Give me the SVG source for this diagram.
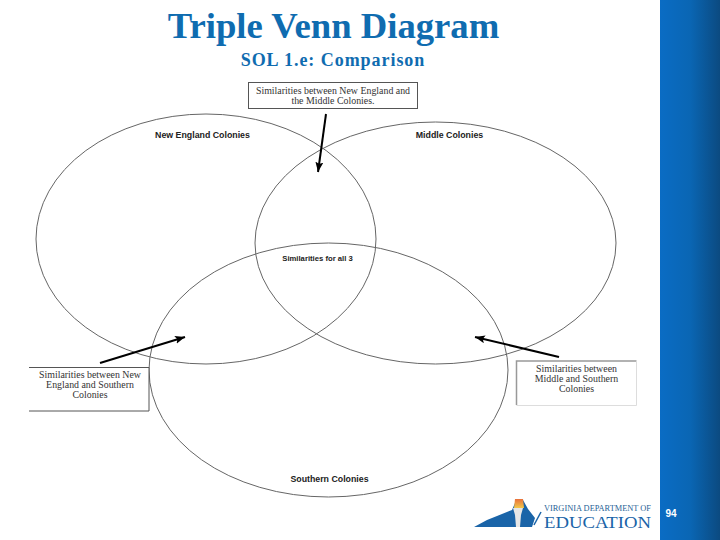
<svg xmlns="http://www.w3.org/2000/svg" width="720" height="540" viewBox="0 0 720 540">
<style>
.v{fill:none;stroke:#666;stroke-width:1}
.box{fill:#fff}
.t{font-family:"Liberation Serif",serif;font-weight:bold;fill:#0f6cb0;text-anchor:middle}
.l{font-family:"Liberation Serif",serif;font-size:9.900px;fill:#333;text-anchor:middle}
.h{font-family:"Liberation Sans",sans-serif;font-size:8.800px;font-weight:bold;fill:#222;text-anchor:middle}
.a{stroke:#000;stroke-width:2;fill:none;marker-end:url(#m)}
</style>
<defs>
<linearGradient id="g" x1="0" x2="1" y1="0" y2="0"><stop offset="0" stop-color="#0a6cc4"/><stop offset=".5" stop-color="#0a66b4"/><stop offset="1" stop-color="#0b4a80"/></linearGradient>
<linearGradient id="f" x1="0" x2="0" y1="0" y2="1"><stop offset="0" stop-color="#e8703a"/><stop offset="1" stop-color="#f2c84a"/></linearGradient>
<marker id="m" markerUnits="userSpaceOnUse" markerWidth="12" markerHeight="10" refX="10" refY="4" orient="auto"><path d="M0 0L10 4L0 8L2 4Z" fill="#000"/></marker>
</defs>
<rect id="sidebar" x="660" y="0" width="60" height="540" fill="url(#g)"/>
<text class="t" x="333.500" y="38" font-size="36.700">Triple Venn Diagram</text>
<text class="t" x="333" y="66" font-size="18" style="letter-spacing:.95px">SOL 1.e: Comparison</text>
<g id="venn-new-england"><ellipse class="v" cx="206" cy="239" rx="170" ry="125"/><text class="h" x="202.500" y="138">New England Colonies</text></g>
<g id="venn-middle"><ellipse class="v" cx="435.500" cy="243" rx="180.500" ry="121"/><text class="h" x="449.500" y="138">Middle Colonies</text></g>
<g id="venn-southern"><ellipse class="v" cx="328.500" cy="370" rx="179.500" ry="127"/><text class="h" x="329.500" y="482">Southern Colonies</text></g>
<g id="label-all"><text class="h" x="317.500" y="261" style="font-size:7.700px">Similarities for all 3</text></g>
<g id="box-top"><rect class="box" x="248.500" y="82.500" width="169" height="26" stroke="#555"/><text class="l" x="333" y="94">Similarities between New England and</text><text class="l" x="333" y="104">the Middle Colonies.</text></g>
<g id="box-left"><path class="box" d="M29 367.500H149V411H29" stroke="#555" fill="#fff"/><text class="l" x="90" y="378">Similarities between New</text><text class="l" x="90" y="388">England and Southern</text><text class="l" x="90" y="398">Colonies</text></g>
<g id="box-right"><path d="M516.500 405V361H636.500" fill="none" stroke="#999" stroke-width="1.500"/><path d="M636.500 361V405.500H516.500" fill="none" stroke="#ddd"/><text class="l" x="576.500" y="372">Similarities between</text><text class="l" x="576.500" y="382">Middle and Southern</text><text class="l" x="576.500" y="392">Colonies</text></g>
<g id="connectors">
<path class="a" d="M326 114L318 172"/>
<path class="a" d="M100 363L185 337"/>
<path class="a" d="M559 357L475 337"/>
</g>
<g id="logo">
<path d="M474 527L487 520L497 516L512 510L515 503L523 500L528 509L535 518L532 527Z" fill="#1a64a8"/>
<path d="M513 508H523L521 515L520 527H516L515 515Z" fill="#e6e6e6"/>
<path d="M515 499H523L524 508H514Z" fill="url(#f)"/>
<path d="M541 512L534 525" stroke="#1a64a8" stroke-width="1.500"/>
<text x="544" y="511" font-family="Liberation Serif,serif" font-size="7.500" fill="#1f5f96" textLength="107" lengthAdjust="spacingAndGlyphs">VIRGINIA DEPARTMENT OF</text>
<text x="544" y="527.500" font-family="Liberation Serif,serif" font-size="17" fill="#1a64a8" textLength="107" lengthAdjust="spacingAndGlyphs">EDUCATION</text>
</g>
<text id="page" x="671" y="517" font-family="Liberation Sans,sans-serif" font-size="10" font-weight="bold" fill="#fff" text-anchor="middle">94</text>
</svg>
